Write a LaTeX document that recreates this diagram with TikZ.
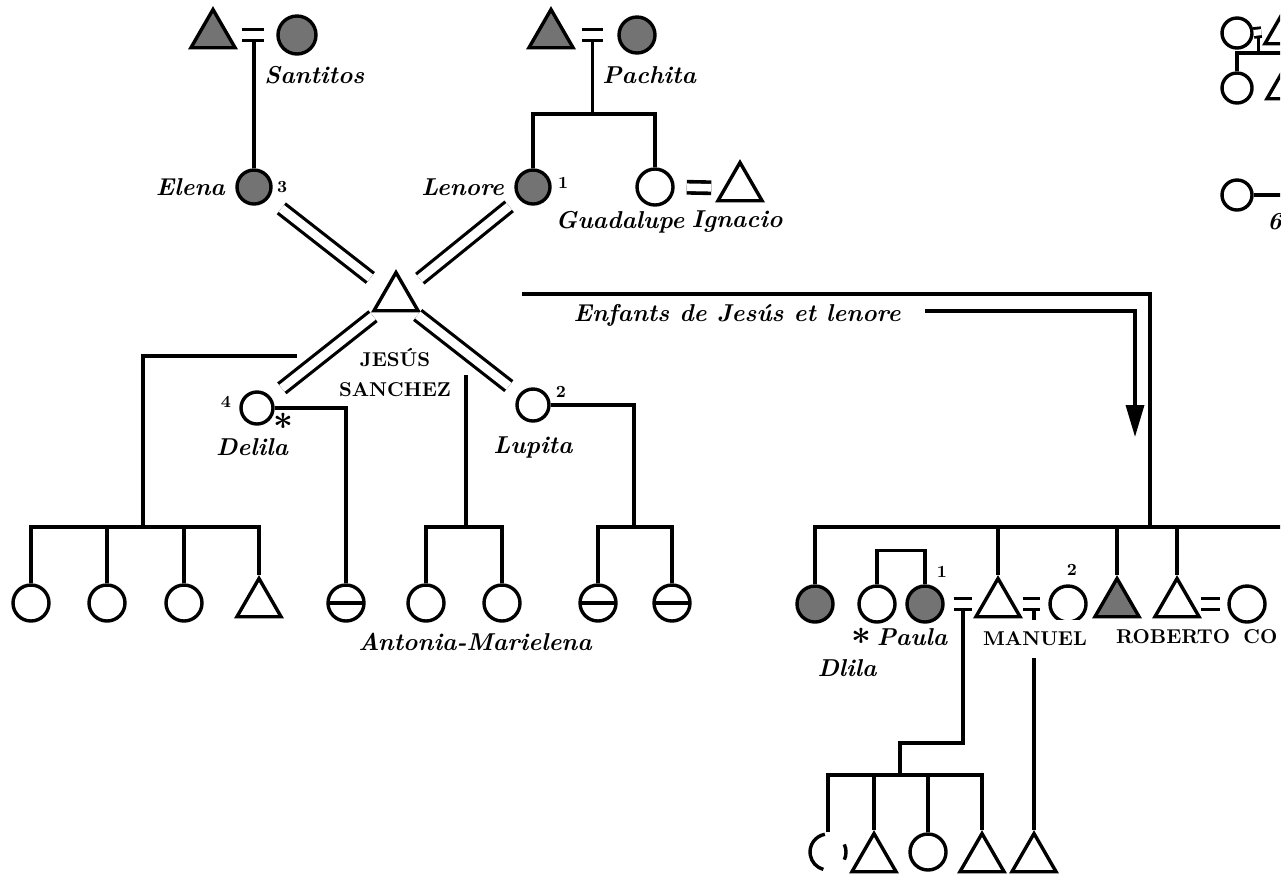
\documentclass[tikz,border=0pt]{standalone}
\usepackage{fontspec}
\usepackage{tikz}
\usetikzlibrary{positioning, calc}
\usetikzlibrary{shapes.geometric, arrows.meta}
\tikzset{
	kin/.style={line width=1.7pt},
	fem/.style={circle, draw, line width=1.7pt, minimum size=18pt, inner sep=0pt},
	masc/.style={regular polygon, regular polygon sides=3, draw, line width=1.7pt, minimum size=25.5pt, inner sep=0pt},
	grayed/.style={fill=black!55},
	barred/.style={path picture={\draw[line width=1.7pt] (path picture bounding box.west) -- (path picture bounding box.east);}},
	wed/.style={double, double distance=4.3pt, line width=1.6pt},
	eq/.style={double, double distance=3.8pt, line width=1.8pt, shorten <=#1, shorten >=#1},
	eq/.default=4.5pt,
	lbl/.style={font=\fontsize{12.2}{13}\selectfont\bfseries\itshape, inner sep=0pt},
	caps/.style={font=\fontsize{10}{15}\selectfont\bfseries, inner sep=0pt},
	num/.style={font=\fontsize{8.5}{8.5}\selectfont\bfseries, inner sep=0pt},
	astx/.style={font=\fontsize{17}{17}\selectfont\boldmath, inner sep=0pt},
}

\begin{document}
\begin{tikzpicture}[x=0.5pt, y=-0.5pt]
\useasboundingbox (0,0) rectangle (1288,875);
\clip (0,0) rectangle (1280,875);

% grandparents
\node[masc, grayed] (santP) at (213,35) {};
\node[fem, grayed, minimum size=19pt] (santM) at (297,35) {};
\node[lbl, anchor=west] (santL) at (264,75) {Santitos};
\node[masc, grayed] (pachP) at (551,35) {};
\node[fem, grayed] (pachM) at (637,35) {};
\node[lbl, anchor=west] (pachL) at (602,75) {Pachita};
\coordinate (santWed) at ($(santP.east)!.5!(santM.west)$);
\coordinate (pachWed) at ($(pachP.east)!.5!(pachM.west)$);

% wives
\node[fem, grayed, minimum size=17pt] (elena) at (254,187) {};
\node[lbl, left=5pt of elena] (elenaL) {Elena};
\node[num, right=2pt of elena] (elenaN) {3};
\node[fem, grayed, minimum size=17pt] (lenore) at (533,187) {};
\node[lbl, left=5pt of lenore] (lenoreL) {Lenore};
\node[num, right=3pt of lenore, yshift=2pt] (lenoreN) {1};
\node[fem] (guad) at (655,187) {};
\node[masc] (ignacio) at (740,188) {};
\node[lbl] (guadL) at (620,222) {Guadalupe};
\node[lbl] (ignacioL) at (737,222) {Ignacio};

\draw[kin] (elena.north) -- (elena.north |- santWed);
\draw[kin] (pachWed) -- ++(0,79) coordinate (pachBar);
\draw[kin] (lenore.north) |- (pachBar) -| (guad.north);
\draw[eq=6pt] (santP.east) -- (santM.west);
\draw[eq=7pt] (pachP.east) -- (pachM.west);
\draw[eq=6pt] (guad.east) -- (ignacio.west);

% Jesus and his wives
\node[masc] (jesus) at (396,298) {};
\node[caps, align=center] (jesusL) at (395,373) {JESÚS\\SANCHEZ};
\node[fem, minimum size=16pt] (delila) at (257,408) {};
\node[num, left=4pt of delila, yshift=3pt] (delilaN) {4};
\node[astx] (delilaS) at (283,421) {$\ast$};
\node[lbl] (delilaL) at (252,447) {Delila};
\node[fem, minimum size=16pt] (lupita) at (533,405) {};
\node[num] (lupitaN) at (561,392) {2};
\node[lbl] (lupitaL) at (533,447) {Lupita};

\draw[wed, shorten <=9pt, shorten >=8pt] (jesus) -- (elena);
\draw[wed, shorten <=8pt, shorten >=6pt] (jesus) -- (lenore);
\draw[wed, shorten <=3pt, shorten >=7pt] (jesus) -- (delila);
\draw[wed, shorten <=2pt, shorten >=6.5pt] (jesus) -- (lupita);

% children on the left
\coordinate (leftTop) at (297,356);
\coordinate (leftBar) at (143,527);
\node[fem] (k1) at (31,603) {};
\node[fem] (k2) at (107,603) {};
\node[fem] (k3) at (184,603) {};
\node[masc] (k4) at (259,604) {};
\draw[kin] (leftTop) -| (leftBar);
\draw[kin] (k1.north) |- (leftBar) -| (k4.north);
\draw[kin] (k2.north) -- (k2.north |- leftBar);
\draw[kin] (k3.north) -- (k3.north |- leftBar);

\node[fem, barred] (dc1) at (346,603) {};
\draw[kin] (delila.east) -| (dc1.north);

\coordinate (midTop) at (466,375);
\coordinate (midBar) at (466,527);
\node[fem] (antonia) at (426,603) {};
\node[fem] (marielena) at (502,603) {};
\node[lbl] (amL) at (475,642) {Antonia-Marielena};
\draw[kin] (midTop) -- (midBar);
\draw[kin] (antonia.north) |- (midBar) -| (marielena.north);

\coordinate (lupBar) at (634,527);
\node[fem, barred] (lc1) at (598,603) {};
\node[fem, barred] (lc2) at (672,603) {};
\draw[kin] (lupita.east) -| (lupBar);
\draw[kin] (lc1.north) |- (lupBar) -| (lc2.north);

% arrow to the children of Lenore
\coordinate (enfStart) at (522,294);
\coordinate (enfJoin) at (1150,527);
\coordinate (enfTip) at (1135,437);
\node[lbl] (enf) at (737,315) {Enfants de Jesús et lenore};
\draw[kin] (enfStart) -| (enfJoin);
\draw[kin, -{Triangle[length=16pt, width=9pt]}, shorten <=12pt] ([yshift=2pt]enf.east) -| (enfTip);

% children of Jesus and Lenore
\coordinate (rightEnd) at (1290,527);
\node[fem, grayed] (r1) at (815,604) {};
\node[fem] (dlila) at (877,604) {};
\node[fem, grayed] (paula) at (925,604) {};
\node[masc] (manuel) at (998,604) {};
\node[fem] (manW) at (1068,604) {};
\node[masc, grayed] (r4) at (1117,604) {};
\node[masc] (roberto) at (1177,604) {};
\node[fem] (robW) at (1247,604) {};
\coordinate (pmWed) at ($(paula.east)!.5!(manuel.west)$);
\coordinate (mwWed) at ($(manuel.east)!.5!(manW.west)$);

\draw[kin] (r1.north) |- (rightEnd);
\draw[kin] (manuel.north) -- (manuel.north |- rightEnd);
\draw[kin] (r4.north) -- (r4.north |- rightEnd);
\draw[kin] (roberto.north) -- (roberto.north |- rightEnd);
\draw[kin] (dlila.north) -- ++(0,-34) -| (paula.north);

% grandchildren
\coordinate (gBar) at (900,775);
\node[fem, draw=none] (g1) at (828,852) {};
\node[masc] (g2) at (874,859) {};
\node[fem] (g3) at (928,852) {};
\node[masc] (g4) at (982,859) {};
\node[masc] (g5) at (1034,859) {};
\draw[kin] ([shift={(100:9pt)}]g1.center) arc[start angle=100, end angle=255, radius=9pt];
\draw[kin] ([shift={(-25:9pt)}]g1.center) arc[start angle=-25, end angle=25, radius=9pt];
\draw[kin] (pmWed) -- ++(0,139) -| (gBar);
\draw[kin] (g1.north) |- (gBar) -| (g4.north);
\draw[kin] (g2.north) -- (g2.north |- gBar);
\draw[kin] (g3.north) -- (g3.north |- gBar);
\draw[kin] (g5.north) -- (g5.north |- mwWed);

\draw[eq] (paula.east) -- (manuel.west);
\draw[eq=4pt] (manuel.east) -- (manW.west);
\draw[eq=3.5pt] (roberto.east) -- (robW.west);

\node[astx] (dlilaS) at (861,636) {$\ast$};
\node[lbl] (paulaL) at (912,637) {Paula};
\node[lbl] (dlilaL) at (847,668) {Dlila};
\node[num] (paulaN) at (942,572) {1};
\node[num] (manWN) at (1072,570) {2};
\node[caps, fill=white, inner xsep=1pt, inner ysep=6pt] (manuelL) at (1035,639) {MANUEL};
\node[caps] (robertoL) at (1173,637) {ROBERTO};
\node[caps, anchor=west] (coL) at (1243,637) {CO};

% cut off at the right edge
\coordinate (trEdgeA) at (1290,53);
\coordinate (trEdgeB) at (1290,195);
\node[fem, minimum size=15pt] (tr1) at (1237,33) {};
\node[masc] (tr2) at (1287,31) {};
\node[fem, minimum size=15pt] (tr3) at (1237,88) {};
\node[masc] (tr4) at (1289,86) {};
\node[fem, minimum size=15pt] (tr5) at (1237,195) {};
\node[lbl, anchor=west] (tr6) at (1267,222) {6};
\coordinate (trWed) at ($(tr1.east)+(5,0)$);
\draw[kin] (trWed) -- (trWed |- trEdgeA);
\draw[kin] (tr3.north) |- (trEdgeA);
\draw[kin] (tr5.east) -- (trEdgeB);
\draw[eq=0pt, shorten >=4.5pt, double distance=3pt, line width=1.4pt] (tr1.east) -- (tr2.west);
\end{tikzpicture}
\end{document}
